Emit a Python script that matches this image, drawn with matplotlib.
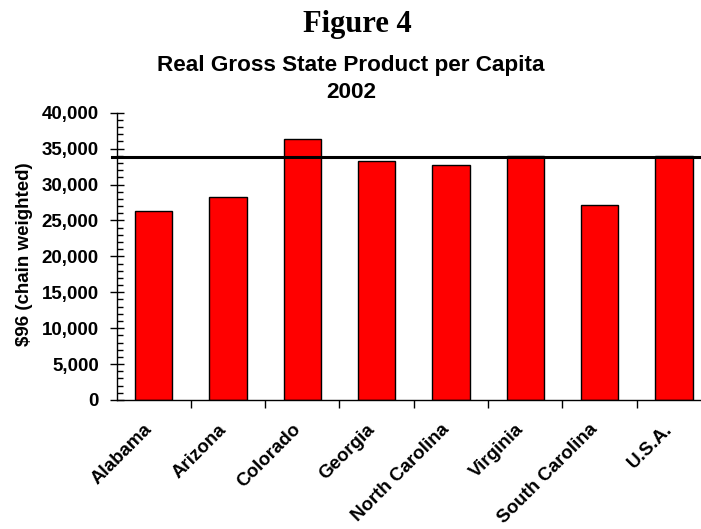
import matplotlib
matplotlib.use("Agg")
import matplotlib.pyplot as plt
from matplotlib.ticker import MultipleLocator, FuncFormatter

states = ["Alabama", "Arizona", "Colorado", "Georgia", "North Carolina",
          "Virginia", "South Carolina", "U.S.A."]
gsp_per_capita = [26300, 28300, 36300, 33300, 32700, 34000, 27100, 34000]
us_level = 33900

W, H = 701, 529
fig = plt.figure(figsize=(W / 100, H / 100), dpi=100)

ax_left = 116.5 / W
ax_bottom = 1 - 400 / H
ax_height = (400 - 112.7) / H
ax_width = 8 * 74.33 / W
ax = fig.add_axes([ax_left, ax_bottom, ax_width, ax_height])

x = list(range(len(states)))
ax.bar(x, gsp_per_capita, width=0.5, color="#ff0000", edgecolor="black",
       linewidth=1.0, zorder=2)

ax.set_xlim(-0.5, len(states) - 0.5)
ax.set_ylim(0, 40000)

for side in ("top", "right"):
    ax.spines[side].set_visible(False)
ax.spines["left"].set_linewidth(1.0)
ax.spines["bottom"].set_linewidth(1.0)

ax.yaxis.set_major_locator(MultipleLocator(5000))
ax.yaxis.set_minor_locator(MultipleLocator(1000))
ax.yaxis.set_major_formatter(FuncFormatter(lambda v, p: f"{int(v):,}"))
ax.tick_params(axis="y", which="major", direction="inout", length=10.5, width=1,
               labelsize=13.5, pad=7.5)
ax.tick_params(axis="y", which="minor", direction="in", length=4, width=1)

# category ticks sit on the boundaries between bars
ax.set_xticks([i + 0.5 for i in x[:-1]] + [len(states) - 0.5], minor=False)
ax.set_xticklabels([])
ax.tick_params(axis="x", which="major", direction="out", length=6, width=1)
for i, name in zip(x, states):
    ax.annotate(name, xy=(i, 0), xycoords=("data", "axes fraction"),
                xytext=(-7.5, -15), textcoords="offset points",
                rotation=45, ha="right", va="top", rotation_mode="anchor",
                fontsize=13.5, fontweight="bold", family="Liberation Sans")

for lab in ax.get_yticklabels():
    lab.set_fontweight("bold")
    lab.set_family("Liberation Sans")

ax.set_ylabel("$96 (chain weighted)", fontsize=13.5, fontweight="bold",
              family="Liberation Sans")
ax.yaxis.set_label_coords((33 - 116.5) / (8 * 74.33), 0.508)

# national reference line across the plot
ax.axhline(us_level, xmin=-0.008, xmax=1.0, color="black", linewidth=2.2,
           zorder=3, clip_on=False)

fig.text(357 / W, 1 - 31.7 / H, "Figure 4", ha="center", va="baseline",
         fontsize=22, fontweight="bold", family="Liberation Serif")
fig.text(351 / W, 1 - 70.7 / H, "Real Gross State Product per Capita",
         ha="center", va="baseline", fontsize=16.2, fontweight="bold",
         family="Liberation Sans")
fig.text(351 / W, 1 - 98 / H, "2002", ha="center", va="baseline",
         fontsize=16.2, fontweight="bold", family="Liberation Sans")

fig.savefig("out.png", dpi=100)
